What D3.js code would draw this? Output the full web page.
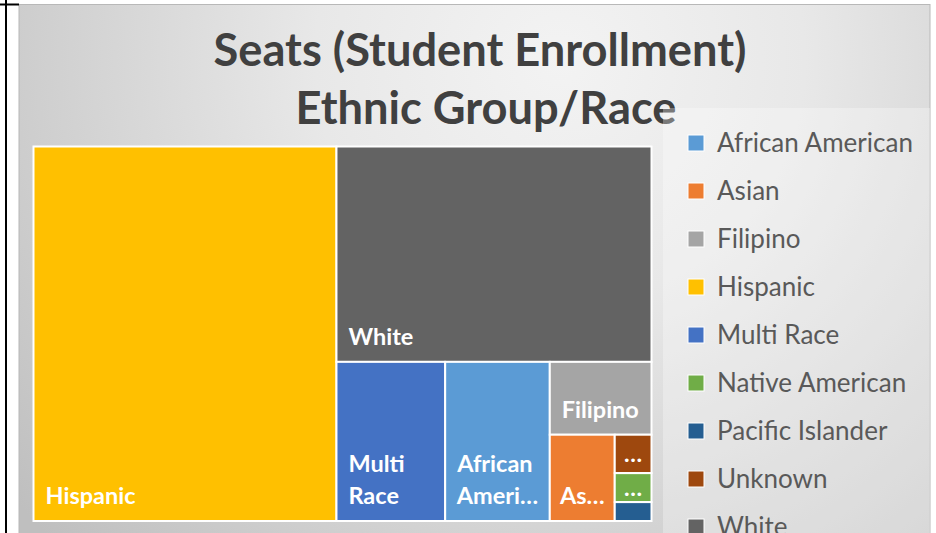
<!DOCTYPE html>
<html lang="en">
<head>
  <meta charset="UTF-8">
  <title>Seats (Student Enrollment) Ethnic Group/Race</title>
  <script src="https://d3js.org/d3.v7.min.js"></script>
  <style>
    body { margin: 0; background: #fff; }
    svg { display: block; font-family: Lato, "Open Sans", sans-serif; }
  </style>
</head>
<body>
  <svg width="936" height="533"></svg>
  <script>
    // Data (seat counts)
    const groups = ["African American", "Asian", "Filipino", "Hispanic", "Multi Race",
                    "Native American", "Pacific Islander", "Unknown", "White"];
    const seats = [719, 242, 320, 4900, 747, 46, 30, 61, 2930];
    const colors = ["#5B9BD5", "#ED7D31", "#A5A5A5", "#FFC000", "#4472C4",
                    "#70AD47", "#255E91", "#9E480E", "#636363"];
    const titleLines = ["Seats (Student Enrollment)", "Ethnic Group/Race"];

    const svg = d3.select("svg");
    const color = d3.scaleOrdinal().domain(groups).range(colors);

    // text measuring helper
    const probe = svg.append("text").attr("x", -999).attr("y", -999);
    function measure(str, weight, size) {
      probe.attr("font-weight", weight).attr("font-size", size).text(str);
      return probe.node().getComputedTextLength();
    }
    function fitSize(str, weight, target) {
      return 40 * target / measure(str, weight, 40);
    }

    // background
    const defs = svg.append("defs");
    const grad = defs.append("radialGradient").attr("id", "bg")
      .attr("gradientUnits", "userSpaceOnUse")
      .attr("cx", 560).attr("cy", 60).attr("r", 700);
    grad.append("stop").attr("offset", 0).attr("stop-color", "#f3f3f3");
    grad.append("stop").attr("offset", 0.35).attr("stop-color", "#e8e8e8");
    grad.append("stop").attr("offset", 1).attr("stop-color", "#bfbfbf");

    svg.append("rect").attr("x", 19).attr("y", 4.5).attr("width", 911).attr("height", 540)
      .attr("fill", "url(#bg)").attr("stroke", "#b8b8b8").attr("stroke-width", 1);

    // sheet lines at the left edge
    svg.append("line").attr("x1", 6).attr("x2", 6).attr("y1", 0).attr("y2", 533)
      .attr("stroke", "#000").attr("stroke-width", 2);
    svg.append("line").attr("x1", 0).attr("x2", 19).attr("y1", 4.5).attr("y2", 4.5)
      .attr("stroke", "#000").attr("stroke-width", 2);

    // title
    const titleSize = fitSize(titleLines[0], 700, 533);
    const title = svg.append("g").attr("fill", "#404040").attr("font-weight", 700)
      .attr("font-size", titleSize).attr("text-anchor", "middle");
    title.append("text").attr("x", 480).attr("y", 65.5).text(titleLines[0]);
    title.append("text").attr("x", 486).attr("y", 124).text(titleLines[1]);

    // treemap
    const tm = { x: 33.5, y: 146.5, w: 618, h: 374.5 };
    const root = d3.hierarchy({ children: groups.map((g, i) => ({ name: g, value: seats[i] })) })
      .sum(d => d.value || 0)
      .sort((a, b) => b.value - a.value);
    d3.treemap().tile(d3.treemapSquarify.ratio(1)).size([tm.w, tm.h])(root);

    const labelSize = fitSize("Hispanic", 700, 90);
    const lineH = 32.5;

    // word wrap, cutting the first word that does not fit with an ellipsis
    function wrap(name, avail) {
      const words = name.split(" ");
      const lines = [];
      let cur = "";
      for (let i = 0; i < words.length; i++) {
        const word = words[i];
        const tryLine = cur ? cur + " " + word : word;
        if (measure(tryLine, 700, labelSize) <= avail) { cur = tryLine; continue; }
        if (cur) { lines.push(cur); cur = ""; }
        if (measure(word, 700, labelSize) <= avail) { cur = word; continue; }
        let cut = word.length - 1;
        while (cut > 0 && measure(word.slice(0, cut) + "\u2026", 700, labelSize) > avail) cut--;
        lines.push(word.slice(0, cut) + "\u2026");
        return lines;
      }
      if (cur) lines.push(cur);
      return lines;
    }

    const cells = svg.append("g").attr("transform", `translate(${tm.x},${tm.y})`)
      .selectAll("g").data(root.leaves()).join("g");

    cells.append("rect")
      .attr("x", d => d.x0).attr("y", d => d.y0)
      .attr("width", d => d.x1 - d.x0).attr("height", d => d.y1 - d.y0)
      .attr("fill", d => color(d.data.name))
      .attr("stroke", "#fff").attr("stroke-width", 2);

    cells.each(function(d) {
      const w = d.x1 - d.x0, h = d.y1 - d.y0;
      if (h < 22) return;
      const lines = wrap(d.data.name, w - 18);
      const g = d3.select(this);
      lines.forEach((ln, i) => {
        const lw = measure(ln, 700, labelSize);
        const x = d.x0 + Math.min(12, (w - lw) / 2);
        let y;
        if (h < 60) y = d.y0 + h / 2 + labelSize * 0.36;
        else y = d.y1 - 17 - (lines.length - 1 - i) * lineH;
        g.append("text").attr("x", x).attr("y", y)
          .attr("fill", "#fff").attr("font-weight", 700).attr("font-size", labelSize)
          .text(ln);
      });
    });

    // legend
    svg.append("rect").attr("x", 663).attr("y", 108).attr("width", 267).attr("height", 440)
      .attr("fill", "#fff").attr("fill-opacity", 0.3);

    const legendSize = fitSize("African American", 400, 196);
    const legend = svg.append("g").selectAll("g").data(groups).join("g")
      .attr("transform", (d, i) => `translate(688,${143 + i * 48})`);
    legend.append("rect").attr("x", 0).attr("y", -8).attr("width", 16).attr("height", 16)
      .attr("fill", d => color(d)).attr("stroke", "#fff").attr("stroke-width", 1);
    legend.append("text").attr("x", 29).attr("y", legendSize * 0.36)
      .attr("fill", "#595959").attr("font-size", legendSize).text(d => d);

    probe.remove();
  </script>
</body>
</html>
